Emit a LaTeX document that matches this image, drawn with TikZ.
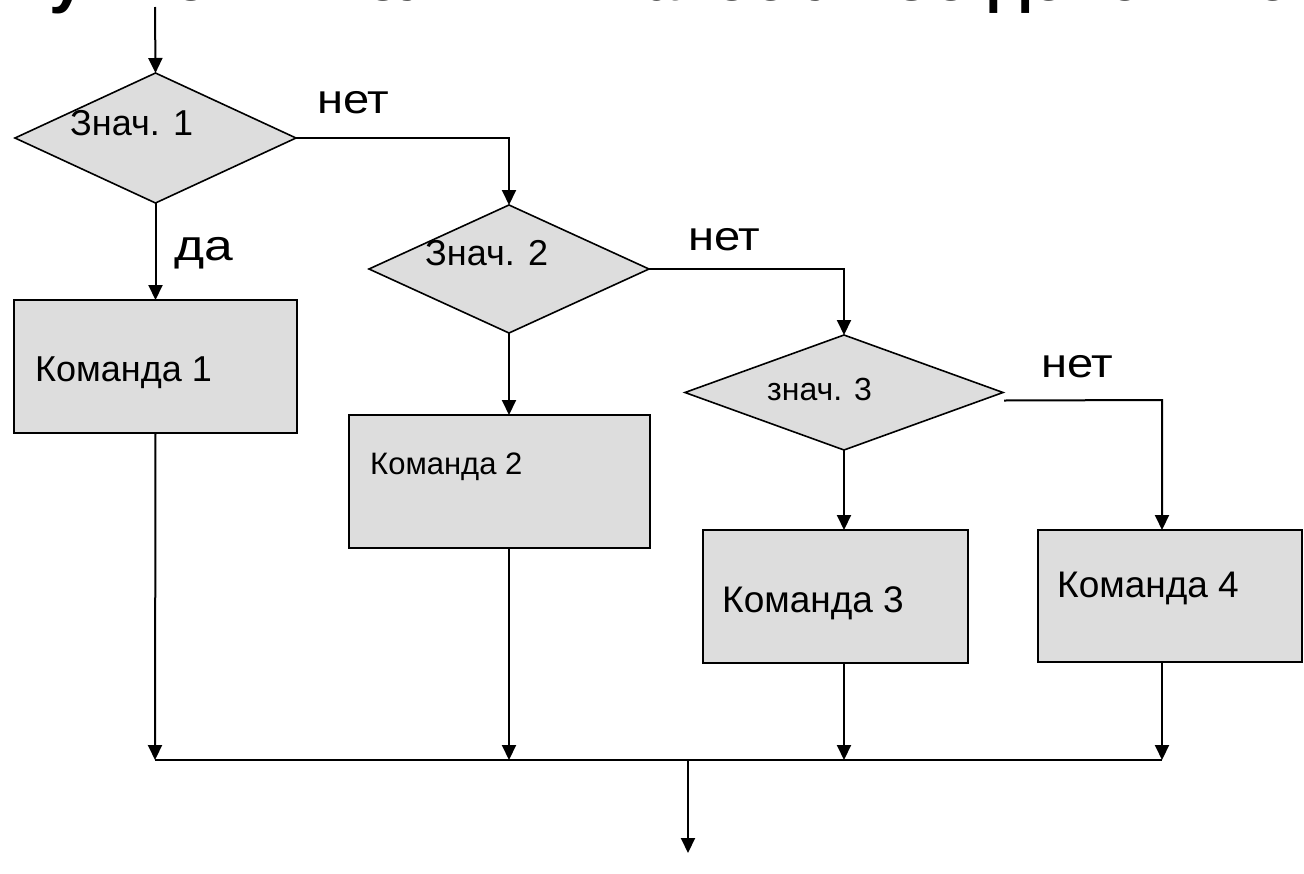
\documentclass[tikz,border=0pt]{standalone}
\usepackage{fontspec}
\setmainfont{Liberation Sans}
\usetikzlibrary{shapes.geometric,arrows.meta,calc}
\definecolor{boxgray}{HTML}{DDDDDD}
\tikzset{
  decision/.style={diamond, draw, fill=boxgray, line width=1.6pt,
    inner sep=0pt, outer sep=0pt},
  cmdbox/.style={rectangle, draw, fill=boxgray, line width=1.6pt,
    inner sep=0pt, outer sep=0pt},
  flow/.style={line width=2pt},
  arr/.style={flow, -{Triangle[length=15pt,width=14pt]}},
  txt/.style={anchor=base west, inner sep=0pt},
  answer/.style={txt, font=\fontsize{41}{45}\selectfont},
  cond/.style={txt, font=\fontsize{36}{40}\selectfont},
  heading/.style={txt, font=\fontsize{65}{70}\selectfont\bfseries},
}
\newcommand{\wide}[2]{\scalebox{#1}[1]{#2}}
\begin{document}
\begin{tikzpicture}[x=1pt,y=-1pt]
  \useasboundingbox[fill=white] (0,0) rectangle (1304,873);

  % heading, mostly above the visible area
  \begin{scope}
    \clip (0,0) rectangle (1304,873);
    \node[heading] (title) at (2,0.5)
      {Нужно выполнить какое-либо действие};
  \end{scope}

  % decisions
  \node[decision, minimum width=281pt, minimum height=130pt] (d1) at (155.5,138) {};
  \node[decision, minimum width=280pt, minimum height=128pt] (d2) at (509,269) {};
  \node[decision, minimum width=318pt, minimum height=115pt] (d3) at (844,392.5) {};

  % commands
  \node[cmdbox, minimum width=283pt, minimum height=133pt] (b1) at (155.5,366.5) {};
  \node[cmdbox, minimum width=301pt, minimum height=133pt] (b2) at (499.5,481.5) {};
  \node[cmdbox, minimum width=265pt, minimum height=133pt] (b3) at (835.5,596.5) {};
  \node[cmdbox, minimum width=264pt, minimum height=132pt] (b4) at (1170,596) {};

  % texts
  \node[cond] (t1) at (70,135) {Знач. 1};
  \node[cond] (t2) at (425,265) {Знач. 2};
  \node[cond, font=\fontsize{32}{36}\selectfont] (t3) at (767,400) {знач. 3};
  \node[cond] (k1) at (35,381) {Команда 1};
  \node[cond, font=\fontsize{31}{35}\selectfont] (k2) at (370,474) {Команда 2};
  \node[cond, font=\fontsize{37}{41}\selectfont] (k3) at (722,612) {Команда 3};
  \node[cond, font=\fontsize{37}{41}\selectfont] (k4) at (1057,597) {Команда 4};

  \node[answer] (no1) at (317,113) {\wide{1.15}{нет}};
  \node[answer, font=\fontsize{43}{47}\selectfont] (yes1) at (174,260) {\wide{1.2}{да}};
  \node[answer] (no2) at (688,250) {\wide{1.15}{нет}};
  \node[answer] (no3) at (1041,377) {\wide{1.15}{нет}};

  % helper points
  \coordinate (start) at (155,7);
  \coordinate (d3out) at ($(d3.east)+(1,8)$);
  \coordinate (r4) at (1162,400);
  \coordinate (mL) at (155,760);
  \coordinate (mR) at (1162,760);
  \coordinate (mid) at (688,760);
  \coordinate (finish) at (688,853);

  % connectors
  \draw[arr] (start) -- (d1.north);
  \draw[arr] (d1.south) -- (d1.south |- b1.north);
  \draw[arr] (d1.east) -| (d2.north);
  \draw[arr] (d2.south) -- (d2.south |- b2.north);
  \draw[arr] (d2.east) -| (d3.north);
  \draw[arr] (d3.south) -- (d3.south |- b3.north);
  \draw[arr] (d3out) -- (r4) -- (r4 |- b4.north);

  \draw[arr] (d1.south |- b1.south) -- (mL);
  \draw[arr] (d2.south |- b2.south) -- (d2.south |- mL);
  \draw[arr] (d3.south |- b3.south) -- (d3.south |- mL);
  \draw[arr] (r4 |- b4.south) -- (mR);
  \draw[flow] (mL) -- (mR);
  \draw[arr] (mid) -- (finish);
\end{tikzpicture}
\end{document}
